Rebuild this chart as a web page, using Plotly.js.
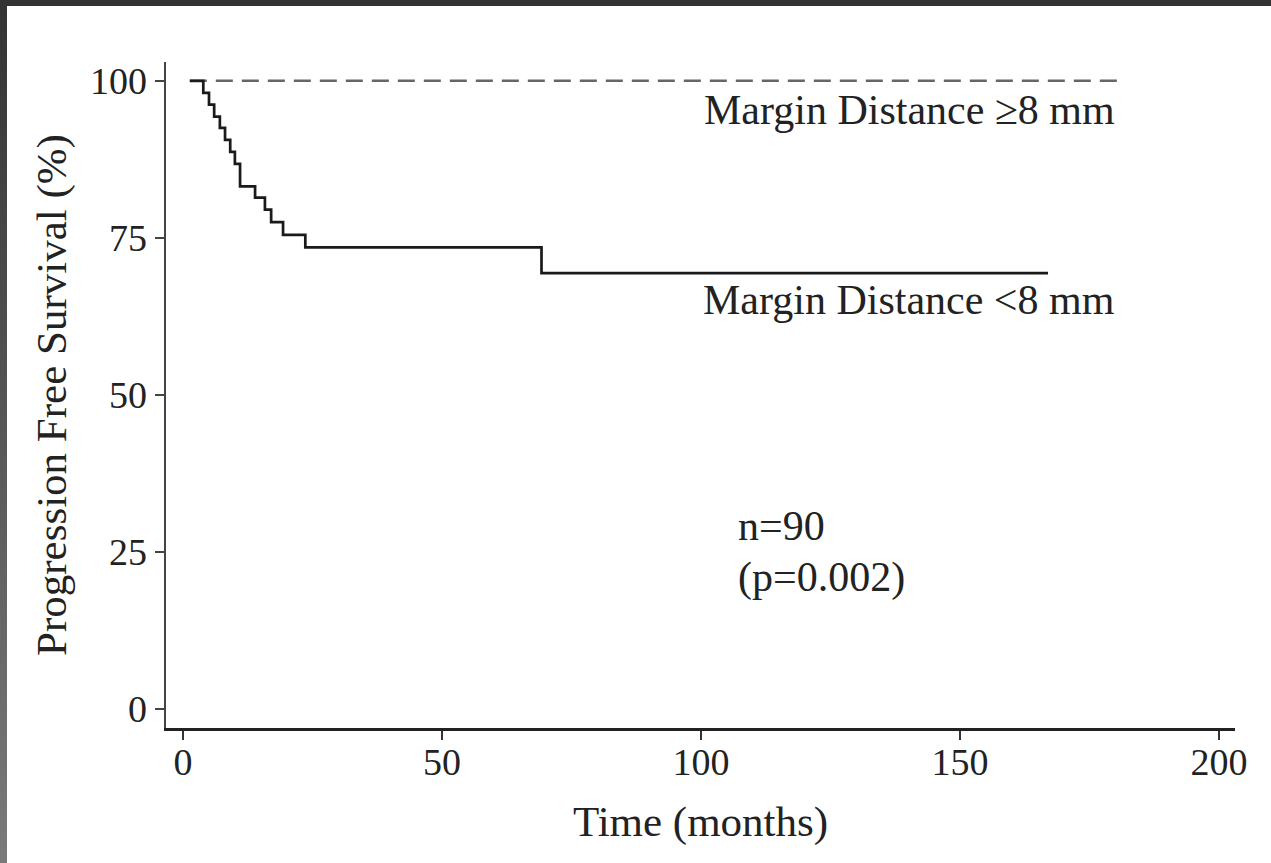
<!DOCTYPE html>
<html>
<head>
<meta charset="utf-8">
<script src="https://cdn.plot.ly/plotly-3.0.1.min.js"></script>
<style>
  html, body { margin: 0; padding: 0; background: #fff; }
  #chart { width: 1271px; height: 863px; }
  #topbar { position: absolute; left: 0; top: 0; width: 1271px; height: 6px; background: #333; }
  #leftbar { position: absolute; left: 0; top: 0; width: 7px; height: 863px; background: linear-gradient(#333, #7a7a7a); }
</style>
</head>
<body>
<div id="chart"></div>
<div id="topbar"></div>
<div id="leftbar"></div>
<script>
// Margin Distance < 8 mm (Kaplan-Meier steps)
const timeLt8 = [1.3, 3.9, 5.0, 6.0, 7.1, 8.1, 9.1, 10.0, 11.0, 13.9, 15.8, 17.0, 19.3, 23.6, 69.2, 167.0];
const survLt8 = [100, 98.1, 96.2, 94.3, 92.5, 90.6, 88.7, 86.8, 83.2, 81.4, 79.5, 77.5, 75.5, 73.5, 69.4, 69.4];

// Margin Distance >= 8 mm
const timeGe8 = [1.3, 180.3];
const survGe8 = [100, 100];

const xTicks = [0, 50, 100, 150, 200];
const yTicks = [0, 25, 50, 75, 100];

const labelGe8 = "Margin Distance \u22658 mm";
const labelLt8 = "Margin Distance <8 mm";
const nText = "n=90";
const pText = "(p=0.002)";

const serif = "Liberation Serif, Times New Roman, serif";
const ink = "#222";

const traces = [
  {
    x: timeGe8, y: survGe8, type: "scatter", mode: "lines",
    line: { color: "#666", width: 2.5, dash: "17px,9px" },
    hoverinfo: "skip", showlegend: false
  },
  {
    x: timeLt8, y: survLt8, type: "scatter", mode: "lines",
    line: { color: "#1a1a1a", width: 2.7, shape: "hv" },
    hoverinfo: "skip", showlegend: false
  }
];

const layout = {
  width: 1271, height: 863,
  margin: { l: 166, r: 36, t: 62, b: 135 },
  paper_bgcolor: "#fff", plot_bgcolor: "#fff",
  font: { family: serif, color: ink, size: 38 },
  showlegend: false,
  xaxis: {
    range: [-3.3, 203.1], tickvals: xTicks, ticktext: xTicks.map(String),
    showgrid: false, zeroline: false, showline: true, linecolor: "#222", linewidth: 2.5,
    ticks: "outside", ticklen: 9, tickwidth: 2, tickcolor: "#333",
    ticklabelstandoff: -10,
    tickfont: { family: serif, size: 38, color: ink },
    title: { text: "Time (months)", font: { family: serif, size: 43, color: ink }, standoff: 24 }
  },
  yaxis: {
    range: [-3.0, 103.0], tickvals: yTicks, ticktext: yTicks.map(String),
    showgrid: false, zeroline: false, showline: true, linecolor: "#444", linewidth: 2.5,
    ticks: "outside", ticklen: 9, tickwidth: 2, tickcolor: "#444",
    tickfont: { family: serif, size: 38, color: ink },
    title: { text: "Progression Free Survival (%)", font: { family: serif, size: 43, color: ink }, standoff: 10 }
  },
  annotations: [
    { x: 180.3, y: 95.4, xref: "x", yref: "y", text: labelGe8, showarrow: false,
      xanchor: "right", yanchor: "middle", font: { family: serif, size: 42, color: ink } },
    { x: 180.3, y: 65.1, xref: "x", yref: "y", text: labelLt8, showarrow: false,
      xanchor: "right", yanchor: "middle", font: { family: serif, size: 42, color: ink } },
    { x: 106.7, y: 29.1, xref: "x", yref: "y", text: nText, showarrow: false,
      xanchor: "left", yanchor: "middle", font: { family: serif, size: 42, color: ink } },
    { x: 106.7, y: 20.9, xref: "x", yref: "y", text: pText, showarrow: false,
      xanchor: "left", yanchor: "middle", font: { family: serif, size: 42, color: ink } }
  ]
};

Plotly.newPlot("chart", traces, layout, { staticPlot: true, displayModeBar: false });
</script>
</body>
</html>
